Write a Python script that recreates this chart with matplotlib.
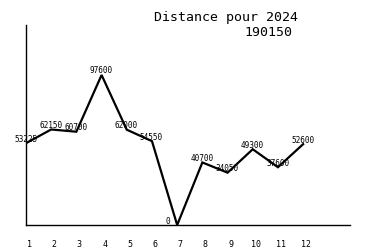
import matplotlib
matplotlib.use("Agg")
import matplotlib.pyplot as plt
from matplotlib.transforms import offset_copy

months = [1, 2, 3, 4, 5, 6, 7, 8, 9, 10, 11, 12]
distances = [53225, 62150, 60700, 97600, 62000, 54550, 0, 40700, 34050, 49300, 37600, 52600]
title_line1 = "Distance pour 2024"
title_line2 = "190150"

fig = plt.figure(figsize=(3.75, 2.5), dpi=100)
ax = fig.add_axes([26/375, 25/250, 324/375, 200/250])
ax.plot(months, distances, color="black", lw=1.6, solid_joinstyle="miter")
ax.set_xlim(1, 13.86)
ax.set_ylim(0, 130133)

for sp in ["top", "right"]:
    ax.spines[sp].set_visible(False)
for sp in ["left", "bottom"]:
    ax.spines[sp].set_linewidth(1.0)

ax.set_yticks([])
ax.set_xticks(months)
ax.set_xticklabels([str(m) for m in months], fontfamily="DejaVu Sans Mono", fontsize=6)
ax.tick_params(axis="x", length=0, pad=10.5)
for lbl in ax.get_xticklabels():
    lbl.set_transform(offset_copy(lbl.get_transform(), fig=fig, x=3, y=0, units="dots"))

for m, d in zip(months, distances):
    tr = offset_copy(ax.transData, fig=fig, x=-12, y=4, units="dots")
    ax.text(m, d, str(d), transform=tr, ha="left", va="center",
            fontfamily="DejaVu Sans Mono", fontsize=5.6)

fig.text(226/375, 1 - 18/250, title_line1, ha="center", va="center",
         fontfamily="DejaVu Sans Mono", fontsize=9.5)
fig.text(268/375, 1 - 33/250, title_line2, ha="center", va="center",
         fontfamily="DejaVu Sans Mono", fontsize=9.5)

fig.savefig("out.png", dpi=100)
